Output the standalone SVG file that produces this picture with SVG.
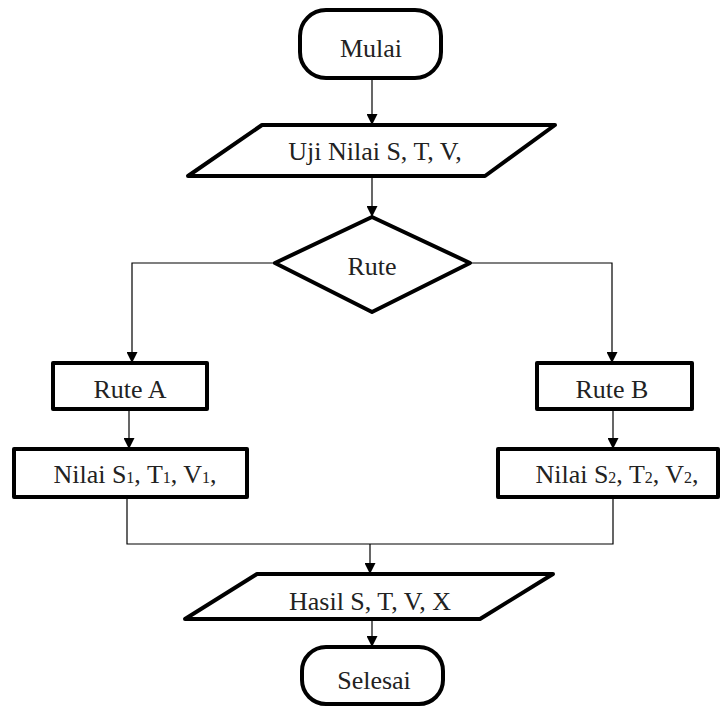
<svg xmlns="http://www.w3.org/2000/svg" width="721" height="707" viewBox="0 0 721 707">
<defs>
<style>
.shape{fill:#fff;stroke:#000;stroke-width:4;stroke-linejoin:round}
.conn{fill:none;stroke:#000;stroke-width:1.2}
.t{font-family:"Liberation Serif","Times New Roman",serif;font-size:26px;fill:#222;text-anchor:middle}
.sub{font-size:16px}
</style>
<marker id="arr" viewBox="0 0 10 10" refX="10" refY="5" markerWidth="11" markerHeight="11" markerUnits="userSpaceOnUse" orient="auto">
<path d="M0,0 L10,5 L0,10 Z" fill="#000"/>
</marker>
</defs>
<rect width="721" height="707" fill="#fff"/>
<g id="connectors">
<line class="conn" x1="372" y1="78" x2="372" y2="125" marker-end="url(#arr)"/>
<line class="conn" x1="372" y1="176" x2="372" y2="217" marker-end="url(#arr)"/>
<polyline class="conn" points="275,263 132,263 132,363" marker-end="url(#arr)"/>
<polyline class="conn" points="470,263 612,263 612,363" marker-end="url(#arr)"/>
<line class="conn" x1="129" y1="409" x2="129" y2="449" marker-end="url(#arr)"/>
<line class="conn" x1="613" y1="409" x2="613" y2="449" marker-end="url(#arr)"/>
<polyline class="conn" points="127,497 127,544 613,544 613,497"/>
<line class="conn" x1="370" y1="544" x2="370" y2="574" marker-end="url(#arr)"/>
<line class="conn" x1="372" y1="619" x2="372" y2="647" marker-end="url(#arr)"/>
</g>
<g id="mulai">
<rect class="shape" x="300" y="10" width="141" height="68" rx="26"/>
<text class="t" x="371" y="57">Mulai</text>
</g>
<g id="uji">
<polygon class="shape" points="262,125 555,125 485,176 188,176"/>
<text class="t" x="375" y="160">Uji Nilai S, T, V,</text>
</g>
<g id="rute">
<polygon class="shape" points="372,217 470,263 372,312 275,263"/>
<text class="t" x="372" y="275">Rute</text>
</g>
<g id="ruteA">
<rect class="shape" x="53" y="363" width="154" height="46"/>
<text class="t" x="130" y="398">Rute A</text>
</g>
<g id="ruteB">
<rect class="shape" x="537" y="363" width="155" height="46"/>
<text class="t" x="612" y="398">Rute B</text>
</g>
<g id="nilai1">
<rect class="shape" x="14" y="449" width="233" height="48"/>
<text class="t" x="135" y="483">Nilai S<tspan class="sub">1</tspan>, T<tspan class="sub">1</tspan>, V<tspan class="sub">1</tspan>,</text>
</g>
<g id="nilai2">
<rect class="shape" x="498" y="449" width="220" height="48"/>
<text class="t" x="617" y="483">Nilai S<tspan class="sub">2</tspan>, T<tspan class="sub">2</tspan>, V<tspan class="sub">2</tspan>,</text>
</g>
<g id="hasil">
<polygon class="shape" points="257,574 553,574 480,619 185,619"/>
<text class="t" x="370" y="610">Hasil S, T, V, X</text>
</g>
<g id="selesai">
<rect class="shape" x="302" y="647" width="141" height="57" rx="24"/>
<text class="t" x="374" y="689">Selesai</text>
</g>
</svg>
